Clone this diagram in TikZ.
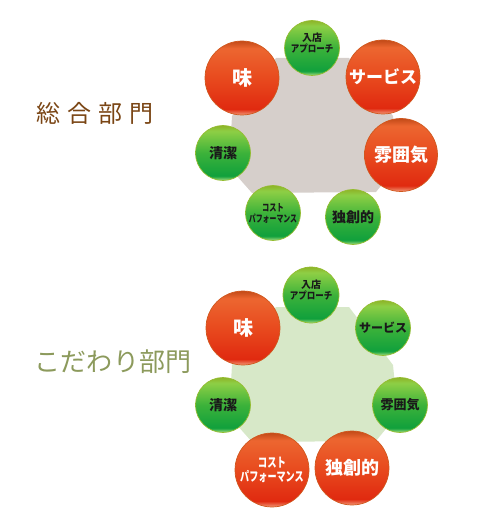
\documentclass[tikz,border=0pt]{standalone}
\usepackage{fontspec}
\usepackage{graphicx}
\setmainfont{Noto Sans CJK JP}
\newfontfamily\titlefont{Noto Sans CJK JP}[LetterSpace=28]
\newfontfamily\titlefontb{Noto Sans CJK JP}[LetterSpace=1]
\newcommand\myfs[1]{\fontsize{#1}{#1}\selectfont}
\newcommand\cond[2]{\scalebox{#1}[1]{#2}}
\definecolor{rA}{HTML}{F29A78}
\definecolor{rB}{HTML}{E02A10}
\definecolor{rC}{HTML}{E84A1E}
\definecolor{rD}{HTML}{EC6630}
\definecolor{rE}{HTML}{C24A18}
\definecolor{gA}{HTML}{A8DE80}
\definecolor{gB}{HTML}{10A03C}
\definecolor{gC}{HTML}{3CB23A}
\definecolor{gD}{HTML}{8ECF45}
\definecolor{gE}{HTML}{8EB428}
\definecolor{redrim}{HTML}{D0581E}
\definecolor{greenrim}{HTML}{94BC30}
\definecolor{gtext}{HTML}{1A1A1A}
\definecolor{polygray}{HTML}{D6CFCB}
\definecolor{polygreen}{HTML}{D7E8C8}
\definecolor{titlebrown}{HTML}{7A4514}
\definecolor{titleolive}{HTML}{8C9A5C}
\pgfdeclareverticalshading{redsh}{100bp}{color(0bp)=(rA); color(25bp)=(rA); color(29bp)=(rB); color(50bp)=(rC); color(70bp)=(rD); color(75bp)=(rE); color(100bp)=(rE)}
\pgfdeclareverticalshading{greensh}{100bp}{color(0bp)=(gA); color(25bp)=(gA); color(29bp)=(gB); color(50bp)=(gC); color(70bp)=(gD); color(75bp)=(gE); color(100bp)=(gE)}
\tikzset{
  ballbase/.style={circle, inner sep=0pt, align=center, line width=0.7pt},
  redball/.style={ballbase, shade, shading=redsh, draw=redrim, text=white, minimum size=74pt},
  greenball/.style={ballbase, shade, shading=greensh, draw=greenrim, text=gtext, minimum size=55pt},
  lab/.style={inner sep=0pt, align=center, text=gtext},
  titleA/.style={inner sep=0pt, text=titlebrown, font=\titlefont\myfs{24}},
  titleB/.style={inner sep=0pt, text=titleolive, font=\titlefontb\myfs{26}},
}
\begin{document}
\begin{tikzpicture}[x=1pt,y=-1pt]
\useasboundingbox (0,0) rectangle (501,518);
% ---------- top group ----------
\fill[polygray] (276,58) -- (349,58) -- (393,116) -- (398,165) -- (376,192) -- (252,193) -- (229,167) -- (232,116) -- cycle;
\node[titleA] (tA) at (95,113) {総合部門};
\node[greenball] (a1) at (312,48) {};
\node[lab, font=\bfseries\myfs{10}] (a1l) at ([yshift=5pt]a1.center) {入店\\[1pt]\cond{0.85}{アプローチ}};
\node[redball, font=\bfseries\myfs{20}] (a2) at (242,78) {味};
\node[redball, font=\bfseries\myfs{17}] (a3) at (383,77) {サービス};
\node[redball, font=\bfseries\myfs{18}, minimum size=73pt] (a4) at (401,155) {雰囲気};
\node[greenball, font=\bfseries\myfs{14}] (a5) at (223,153) {清潔};
\node[greenball, font=\bfseries\myfs{10}] (a6) at (273,213) {\cond{0.72}{コスト}\\[1pt]\cond{0.69}{パフォーマンス}};
\node[greenball, font=\bfseries\myfs{14}] (a7) at (353,217) {独創的};
% ---------- bottom group ----------
\fill[polygreen] (276,307) -- (349,307) -- (393,365) -- (398,414) -- (376,441) -- (252,442) -- (229,416) -- (232,365) -- cycle;
\node[titleB] (tB) at (113,362) {こだわり部門};
\node[greenball, minimum size=56pt] (b1) at (311,295) {};
\node[lab, font=\bfseries\myfs{10}] (b1l) at ([yshift=5pt]b1.center) {入店\\[1pt]\cond{0.85}{アプローチ}};
\node[redball, font=\bfseries\myfs{20}] (b2) at (243,328) {味};
\node[greenball, font=\bfseries\myfs{12}] (b3) at (383,328) {サービス};
\node[greenball, font=\bfseries\myfs{13}] (b4) at (400,405) {雰囲気};
\node[greenball, font=\bfseries\myfs{14}] (b5) at (223,405) {清潔};
\node[redball, font=\bfseries\myfs{13}] (b6) at (272,470) {\cond{0.72}{コスト}\\[1pt]\cond{0.7}{パフォーマンス}};
\node[redball, font=\bfseries\myfs{18}] (b7) at (352,468) {独創的};
\end{tikzpicture}
\end{document}
